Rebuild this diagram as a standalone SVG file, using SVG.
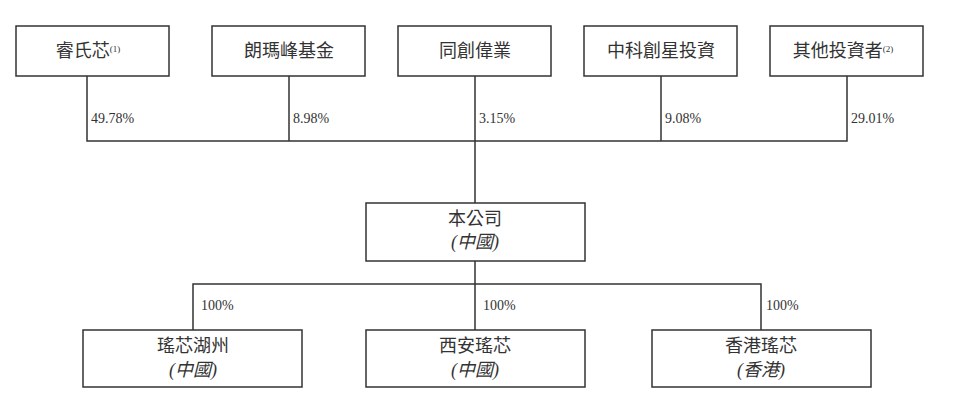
<svg xmlns="http://www.w3.org/2000/svg" width="960" height="419" viewBox="0 0 960 419">
<style>
rect{fill:#fff;stroke:#333;stroke-width:1.5}
.c line,.c path{stroke:#333;stroke-width:1.5;fill:none}
text{font-family:"Liberation Serif","Noto Sans CJK TC",serif;fill:#333}
.n{font-size:18px;text-anchor:middle}
.i{font-style:italic}
.p{font-size:14px}
.s{font-size:9px}
</style>
<rect width="960" height="419" style="fill:#fff;stroke:none"/>
<g class="c">
<path d="M87 76V141H847V76M289 76V141M475 76V203M661 76V141"/>
<path d="M475 261V330M193 330V284H761V330"/>
</g>
<g class="p">
<text x="91" y="123">49.78%</text><text x="293" y="123">8.98%</text><text x="479" y="123">3.15%</text><text x="665" y="123">9.08%</text><text x="851" y="123">29.01%</text>
<text x="201" y="310">100%</text><text x="483" y="310">100%</text><text x="766" y="310">100%</text>
</g>
<g id="n1"><rect x="16" y="26" width="153" height="50"/><text class="n" x="88" y="57">睿氏芯<tspan class="s" dy="-5">(1)</tspan></text></g>
<g id="n2"><rect x="212" y="26" width="153" height="50"/><text class="n" x="289" y="57">朗瑪峰基金</text></g>
<g id="n3"><rect x="398" y="26" width="153" height="50"/><text class="n" x="475" y="57">同創偉業</text></g>
<g id="n4"><rect x="584" y="26" width="153" height="50"/><text class="n" x="661" y="57">中科創星投資</text></g>
<g id="n5"><rect x="770" y="26" width="153" height="50"/><text class="n" x="843" y="57">其他投資者<tspan class="s" dy="-5">(2)</tspan></text></g>
<g id="m"><rect x="366" y="203" width="219" height="58"/><text class="n" x="475" y="225">本公司</text><text class="n i" x="475" y="248">(中國)</text></g>
<g id="c1"><rect x="83" y="330" width="219" height="57"/><text class="n" x="193" y="352">瑤芯湖州</text><text class="n i" x="193" y="376">(中國)</text></g>
<g id="c2"><rect x="366" y="330" width="219" height="57"/><text class="n" x="475" y="352">西安瑤芯</text><text class="n i" x="475" y="376">(中國)</text></g>
<g id="c3"><rect x="652" y="330" width="219" height="57"/><text class="n" x="761" y="352">香港瑤芯</text><text class="n i" x="761" y="376">(香港)</text></g>
</svg>
